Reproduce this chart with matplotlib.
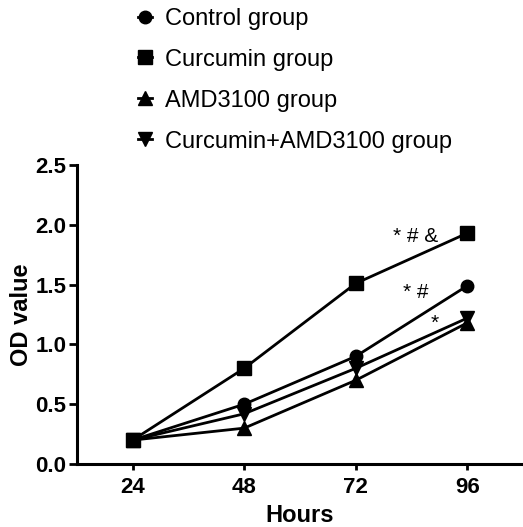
import matplotlib
matplotlib.use("Agg")
import matplotlib.pyplot as plt

plt.rcParams["font.family"] = ["Liberation Sans", "DejaVu Sans"]

hours = [24, 48, 72, 96]
control = [0.20, 0.50, 0.90, 1.49]
curcumin = [0.20, 0.80, 1.51, 1.93]
amd3100 = [0.20, 0.30, 0.70, 1.18]
curc_amd = [0.20, 0.42, 0.80, 1.22]

series = [
    ("Control group", control, "o", 9),
    ("Curcumin group", curcumin, "s", 9.5),
    ("AMD3100 group", amd3100, "^", 10),
    ("Curcumin+AMD3100 group", curc_amd, "v", 10),
]

marks = [("* # &", 85, 1.90), ("* #", 85, 1.43), ("*", 89, 1.18)]

fig = plt.figure(figsize=(5.23, 5.27), dpi=100)
ax = fig.add_axes([0.147, 0.1195, 0.853, 0.5674])

handles = []
for label, vals, mk, ms in series:
    (h,) = ax.plot(hours, vals, color="black", linewidth=2.0, marker=mk,
                   markersize=ms, label=label, clip_on=False)
    handles.append(h)

for txt, x, y in marks:
    ax.text(x, y, txt, fontsize=15, ha="center", va="center")

ax.set_xlim(12, 108)
ax.set_ylim(0, 2.5)
ax.set_xticks(hours)
ax.set_yticks([0.0, 0.5, 1.0, 1.5, 2.0, 2.5])
ax.set_yticklabels(["0.0", "0.5", "1.0", "1.5", "2.0", "2.5"])
ax.spines["top"].set_visible(False)
ax.spines["right"].set_visible(False)
for s in ("left", "bottom"):
    ax.spines[s].set_linewidth(2.2)
ax.tick_params(axis="y", width=2.0, length=5.5, labelsize=16, pad=2)
ax.tick_params(axis="x", width=2.0, length=4, labelsize=16, pad=5)
for lab in ax.get_xticklabels() + ax.get_yticklabels():
    lab.set_fontweight("bold")
ax.set_xlabel("Hours", fontsize=17, fontweight="bold", labelpad=5)
ax.set_ylabel("OD value", fontsize=17, fontweight="bold", labelpad=2)

fig.legend(handles=handles, loc="upper left", bbox_to_anchor=(0.245, 1.003),
           frameon=False, fontsize=17, handlelength=0.6, handletextpad=0.55,
           labelspacing=0.8, borderaxespad=0)

fig.savefig("out.png", dpi=100)
